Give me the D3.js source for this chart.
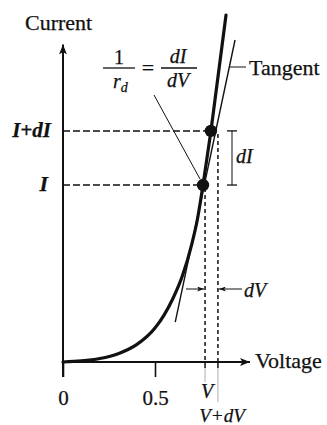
<!DOCTYPE html>
<html>
<head>
<meta charset="utf-8">
<script src="https://cdn.jsdelivr.net/npm/d3@7"></script>
<style>
  html, body { margin: 0; padding: 0; background: #fff; }
  svg text { font-family: "Liberation Serif", "DejaVu Serif", serif; fill: #111; stroke: #111; stroke-width: 0.25px; }
</style>
</head>
<body>
<svg id="chart" width="327" height="425"></svg>
<script>
// Diode I–V characteristic (arbitrary current units)
const voltage = [0, 0.1, 0.2, 0.3, 0.4, 0.5, 0.55, 0.6, 0.65, 0.7, 0.73, 0.761, 0.804, 0.886];
const current = [0, 0.03, 0.10, 0.24, 0.50, 0.98, 1.36, 1.86, 2.50, 3.40, 4.10, 5.10, 6.66, 10.0];

// Tangent line at the operating point
const tangentV = [0.61, 0.935];
const tangentI = [1.15, 9.28];

// Marked points on the curve
const pointV = [0.761, 0.804];
const pointI = [5.10, 6.66];

// Voltage markers V and V+dV
const markV = [0.772, 0.842];
const markVLabels = ["V", "V+dV"];

// Current markers I and I+dI
const markI = [5.10, 6.66];
const markILabels = ["I", "I+dI"];

// Numeric voltage ticks
const xTicks = [0, 0.5];
const xTickLabels = ["0", "0.5"];

const svg = d3.select("#chart");
const x = d3.scaleLinear().domain([0, 1]).range([63, 247]);
const y = d3.scaleLinear().domain([0, 10]).range([362, 15]);

const ink = "#111";

// arrow markers
const defs = svg.append("defs");
function arrow(id, w, h) {
  defs.append("marker")
    .attr("id", id).attr("viewBox", `0 0 ${w} ${h}`)
    .attr("refX", w).attr("refY", h / 2)
    .attr("markerWidth", w).attr("markerHeight", h)
    .attr("markerUnits", "userSpaceOnUse")
    .attr("orient", "auto")
    .append("path").attr("d", `M0,0 L${w},${h/2} L0,${h} L${w*0.25},${h/2} Z`).attr("fill", ink);
}
arrow("axisArrow", 10, 8);
arrow("smallArrow", 7, 5);

// axes
svg.append("line")
  .attr("x1", x(0)).attr("y1", y(-0.43)).attr("x2", x(0)).attr("y2", y(9.15))
  .attr("stroke", ink).attr("stroke-width", 2).attr("marker-end", "url(#axisArrow)");
svg.append("line")
  .attr("x1", x(0)).attr("y1", y(0)).attr("x2", x(1.016)).attr("y2", y(0))
  .attr("stroke", ink).attr("stroke-width", 2).attr("marker-end", "url(#axisArrow)");

// numeric ticks via d3 axis
const xAxis = d3.axisBottom(x).tickValues(xTicks).tickSize(15)
  .tickFormat((d, i) => xTickLabels[i]).tickPadding(13);
const gx = svg.append("g").attr("transform", `translate(0,${y(0)})`).call(xAxis);
gx.select(".domain").remove();
gx.selectAll(".tick line").attr("stroke", ink).attr("stroke-width", 1.6);
gx.selectAll(".tick text").attr("font-size", 21).attr("fill", ink)
  .style("font-family", "Liberation Serif, serif");

// axis titles
svg.append("text").attr("x", 25).attr("y", 30).attr("font-size", 22).text("Current");
svg.append("text").attr("x", 255).attr("y", 368).attr("font-size", 22).text("Voltage");

// dashed guide lines
markI.forEach((iv, k) => {
  svg.append("line")
    .attr("x1", x(0)).attr("y1", y(iv)).attr("x2", x(pointV[k])).attr("y2", y(iv))
    .attr("stroke", ink).attr("stroke-width", 1.5).attr("stroke-dasharray", "7,3");
});
markV.forEach((vv, k) => {
  svg.append("line")
    .attr("x1", x(vv)).attr("y1", y(pointI[k]) + 3).attr("x2", x(vv)).attr("y2", y(0))
    .attr("stroke", ink).attr("stroke-width", 1.5).attr("stroke-dasharray", "4,3");
  // small tick under the axis and faint leader to the label
  svg.append("line")
    .attr("x1", x(vv)).attr("y1", y(0)).attr("x2", x(vv)).attr("y2", y(0) + 6)
    .attr("stroke", ink).attr("stroke-width", 1.5);
  svg.append("line")
    .attr("x1", x(vv)).attr("y1", y(0) + 6).attr("x2", x(vv)).attr("y2", k === 0 ? 382 : 402)
    .attr("stroke", "#999").attr("stroke-width", 0.8);
});

// characteristic curve
const pts = voltage.map((v, i) => [v, current[i]]);
svg.append("path")
  .attr("d", d3.line().x(d => x(d[0])).y(d => y(d[1])).curve(d3.curveMonotoneX)(pts))
  .attr("fill", "none").attr("stroke", ink).attr("stroke-width", 3.2).attr("stroke-linecap", "round");

// tangent
svg.append("line")
  .attr("x1", x(tangentV[0])).attr("y1", y(tangentI[0]))
  .attr("x2", x(tangentV[1])).attr("y2", y(tangentI[1]))
  .attr("stroke", ink).attr("stroke-width", 1.4);

// points
svg.selectAll("circle.pt").data(pointV).enter().append("circle")
  .attr("class", "pt").attr("cx", d => x(d)).attr("cy", (d, i) => y(pointI[i]))
  .attr("r", 6.2).attr("fill", ink);

// current labels
svg.append("text").attr("x", 51).attr("y", 137).attr("font-size", 21)
  .attr("font-weight", "bold").attr("font-style", "italic").attr("text-anchor", "end").text(markILabels[1]);
svg.append("text").attr("x", 48).attr("y", 191).attr("font-size", 22)
  .attr("font-weight", "bold").attr("font-style", "italic").attr("text-anchor", "end").text(markILabels[0]);

// voltage marker labels
svg.append("text").attr("x", 207).attr("y", 398).attr("font-size", 20)
  .attr("font-style", "italic").attr("text-anchor", "middle").text(markVLabels[0]);
svg.append("text").attr("x", 222).attr("y", 422).attr("font-size", 19)
  .attr("font-style", "italic").attr("text-anchor", "middle").text(markVLabels[1]);

// dI dimension
const dimX = 232;
svg.append("line").attr("x1", dimX).attr("y1", y(markI[1])).attr("x2", dimX).attr("y2", y(markI[0]))
  .attr("stroke", ink).attr("stroke-width", 1);
[markI[1], markI[0]].forEach(iv => {
  svg.append("line").attr("x1", dimX - 5).attr("y1", y(iv)).attr("x2", dimX + 5).attr("y2", y(iv))
    .attr("stroke", ink).attr("stroke-width", 1.3);
});
svg.append("text").attr("x", 236).attr("y", 163).attr("font-size", 20)
  .attr("font-style", "italic").text("dI");

// dV dimension
const dvY = 289;
svg.append("line").attr("x1", 186).attr("y1", dvY).attr("x2", x(markV[0]) - 1).attr("y2", dvY)
  .attr("stroke", ink).attr("stroke-width", 1).attr("marker-end", "url(#smallArrow)");
svg.append("line").attr("x1", 242).attr("y1", dvY).attr("x2", x(markV[1]) + 1).attr("y2", dvY)
  .attr("stroke", ink).attr("stroke-width", 1).attr("marker-end", "url(#smallArrow)");
svg.append("text").attr("x", 244).attr("y", 297).attr("font-size", 20)
  .attr("font-style", "italic").text("dV");

// Tangent label and leader
svg.append("line").attr("x1", 229).attr("y1", 67).attr("x2", 246).attr("y2", 67)
  .attr("stroke", ink).attr("stroke-width", 1);
svg.append("text").attr("x", 249).attr("y", 75).attr("font-size", 22).text("Tangent");

// 1/r_d = dI/dV
const fr = svg.append("g");
fr.append("text").attr("x", 119).attr("y", 64).attr("font-size", 20).attr("text-anchor", "middle").text("1");
fr.append("line").attr("x1", 103).attr("y1", 68).attr("x2", 135).attr("y2", 68).attr("stroke", ink).attr("stroke-width", 1.3);
const rd = fr.append("text").attr("x", 113).attr("y", 88).attr("font-size", 20).attr("font-style", "italic");
rd.append("tspan").text("r");
rd.append("tspan").attr("font-size", 14).attr("dy", 4).text("d");
fr.append("text").attr("x", 148).attr("y", 75).attr("font-size", 22).attr("text-anchor", "middle").text("=");
fr.append("text").attr("x", 178).attr("y", 63).attr("font-size", 20).attr("font-style", "italic").attr("text-anchor", "middle").text("dI");
fr.append("line").attr("x1", 161).attr("y1", 68).attr("x2", 197).attr("y2", 68).attr("stroke", ink).attr("stroke-width", 1.3);
fr.append("text").attr("x", 178).attr("y", 87).attr("font-size", 20).attr("font-style", "italic").attr("text-anchor", "middle").text("dV");

// leader from formula to the lower point
svg.append("line").attr("x1", 154).attr("y1", 95).attr("x2", x(pointV[0]) - 3).attr("y2", y(pointI[0]) - 6)
  .attr("stroke", ink).attr("stroke-width", 1);
</script>
</body>
</html>
